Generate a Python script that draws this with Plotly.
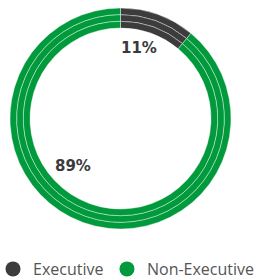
import plotly.graph_objects as go

categories = ["Executive", "Non-Executive"]
values = [11, 89]
colors = ["#3c3c3c", "#009a3d"]

W, H = 259, 280
cx, cy = 120.5, 118.5
radii = [110.5, 103.8, 97.2, 90.5]

fig = go.Figure()
for i in range(3):
    r_out, r_in = radii[i], radii[i + 1]
    fig.add_trace(go.Pie(
        labels=categories, values=values, sort=False, direction="clockwise",
        rotation=0, hole=r_in / r_out, textinfo="none", hoverinfo="label+percent",
        marker=dict(colors=colors, line=dict(color="rgba(255,255,255,0.5)", width=0.8)),
        domain=dict(x=[(cx - r_out) / W, (cx + r_out) / W],
                    y=[1 - (cy + r_out) / H, 1 - (cy - r_out) / H]),
        showlegend=False,
    ))

legend_ids = ["legend", "legend2"]
for name, col, lg in zip(categories, colors, legend_ids):
    fig.add_trace(go.Scatter(x=[None], y=[None], mode="markers", name=name, legend=lg,
                             marker=dict(color=col, size=15, symbol="circle")))

label_pos = [(0.5386, 0.8286), (0.2819, 0.407)]
for v, (x, y) in zip(values, label_pos):
    fig.add_annotation(x=x, y=y, xref="paper", yref="paper", text=f"<b>{v}%</b>",
                       xanchor="center", yanchor="middle",
                       showarrow=False, font=dict(family="DejaVu Sans", size=15, color="#3a3a3a"))

legend_style = dict(orientation="h", yanchor="middle", xanchor="left",
                    font=dict(family="Open Sans", size=16, color="#555555"),
                    itemclick=False, bgcolor="rgba(0,0,0,0)")

fig.update_layout(
    width=W, height=H, margin=dict(l=0, r=0, t=0, b=0, autoexpand=False),
    paper_bgcolor="white", plot_bgcolor="white",
    xaxis=dict(visible=False), yaxis=dict(visible=False),
    legend=dict(x=-0.027, y=0.0393, **legend_style),
    legend2=dict(x=0.413, y=0.0393, **legend_style),
)
fig.write_html("out.html", config={"displayModeBar": False},
               post_script="document.body.style.margin='0';document.body.style.overflow='hidden';")
